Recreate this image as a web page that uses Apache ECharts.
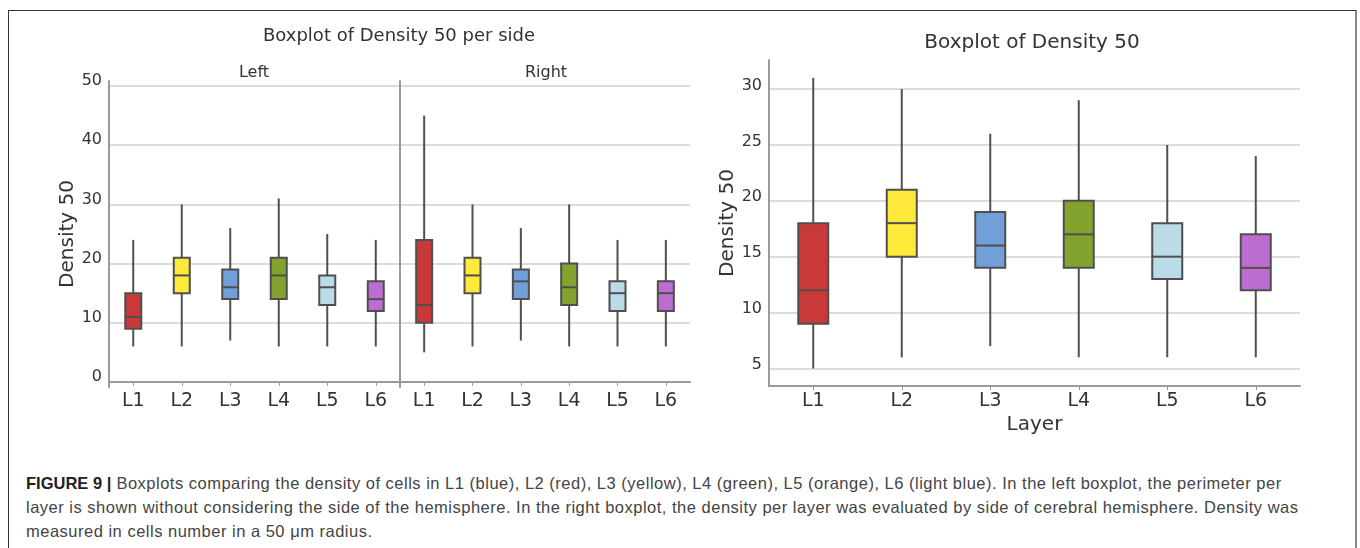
<!DOCTYPE html>
<html>
<head>
<meta charset="utf-8">
<script src="https://cdn.jsdelivr.net/npm/echarts@6/dist/echarts.min.js"></script>
<style>
  html, body { margin: 0; padding: 0; background: #fff; }
  #wrap { position: relative; width: 1360px; height: 548px; overflow: hidden; }
  #frame { position: absolute; left: 8px; top: 10px; width: 1346px; height: 600px;
           border-left: 1px solid #333; border-top: 1px solid #333; border-right: 2px solid #888; }
  #chart { position: absolute; left: 0; top: 0; width: 1360px; height: 440px; }
  #caption { position: absolute; left: 26px; top: 471px; font-family: "Liberation Sans", Arial, sans-serif;
             font-size: 16.5px; letter-spacing: 0.5px; line-height: 24px; color: #444; white-space: nowrap; }
  #caption b { color: #222; letter-spacing: 0; }
</style>
</head>
<body>
<div id="wrap">
  <div id="frame"></div>
  <div id="chart"></div>
  <div id="caption">
    <div><b>FIGURE 9 |</b> Boxplots comparing the density of cells in L1 (blue), L2 (red), L3 (yellow), L4 (green), L5 (orange), L6 (light blue). In the left boxplot, the perimeter per</div>
    <div>layer is shown without considering the side of the hemisphere. In the right boxplot, the density per layer was evaluated by side of cerebral hemisphere. Density was</div>
    <div>measured in cells number in a 50 μm radius.</div>
  </div>
</div>
<script>
// ---- data ----
const categories = ['L1', 'L2', 'L3', 'L4', 'L5', 'L6'];
const layerColors = ['#c9393a', '#ffea3c', '#71a0d9', '#84a22e', '#b9dce8', '#bd6ccf'];
// [min, Q1, median, Q3, max]
const sideLeft  = [[6, 9, 11, 15, 24], [6, 15, 18, 21, 30], [7, 14, 16, 19, 26], [6, 14, 18, 21, 31], [6, 13, 16, 18, 25], [6, 12, 14, 17, 24]];
const sideRight = [[5, 10, 13, 24, 45], [6, 15, 18, 21, 30], [7, 14, 17, 19, 26], [6, 13, 16, 20, 30], [6, 12, 15, 17, 24], [6, 12, 15, 17, 24]];
const overall   = [[5, 9, 12, 18, 31], [6, 15, 18, 21, 30], [7, 14, 16, 19, 26], [6, 14, 17, 20, 29], [6, 13, 15, 18, 25], [6, 12, 14, 17, 24]];
const sideTicks = [0, 10, 20, 30, 40, 50];
const layerTicks = [5, 10, 15, 20, 25, 30];
const sideRange = [-0.85, 50.85];
const layerRange = [3.42, 32.6];

// ---- chart ----
const FONT = 'DejaVu Sans';
const AXIS_COLOR = '#9a9a9a';
const GRID_COLOR = '#dcdcdc';
const TEXT_COLOR = '#333';

function toRows(arr) {
  return arr.map((v, i) => [i].concat(v));
}

function boxRenderer(boxWidth) {
  return function (params, api) {
    const x = api.value(0);
    const pMin = api.coord([x, api.value(1)]);
    const pQ1 = api.coord([x, api.value(2)]);
    const pMed = api.coord([x, api.value(3)]);
    const pQ3 = api.coord([x, api.value(4)]);
    const pMax = api.coord([x, api.value(5)]);
    const cx = pMed[0];
    const half = boxWidth / 2;
    const lineStyle = { stroke: '#4f4f4f', lineWidth: 2 };
    return {
      type: 'group',
      children: [
        { type: 'line', shape: { x1: cx, y1: pMax[1], x2: cx, y2: pQ3[1] }, style: lineStyle },
        { type: 'line', shape: { x1: cx, y1: pQ1[1], x2: cx, y2: pMin[1] }, style: lineStyle },
        { type: 'rect', shape: { x: cx - half, y: pQ3[1], width: boxWidth, height: pQ1[1] - pQ3[1] },
          style: { fill: layerColors[x], stroke: '#4f4f4f', lineWidth: 2 } },
        { type: 'line', shape: { x1: cx - half, y1: pMed[1], x2: cx + half, y2: pMed[1] }, style: lineStyle }
      ]
    };
  };
}

function xAxisCfg(gridIndex, extra) {
  return Object.assign({
    type: 'category', gridIndex: gridIndex, data: categories,
    axisLine: { show: true, lineStyle: { color: AXIS_COLOR, width: 2 } },
    axisTick: { show: true, alignWithLabel: true, length: 4, lineStyle: { color: AXIS_COLOR, width: 1 } },
    axisLabel: { color: TEXT_COLOR, fontFamily: FONT, fontSize: 19, margin: 5 },
    splitLine: { show: false }
  }, extra || {});
}

function labelCfg(ticks, show, lh) {
  return {
    show: show, color: TEXT_COLOR, fontFamily: FONT, fontSize: 16, margin: 7,
    showMinLabel: false, showMaxLabel: false,
    verticalAlign: 'bottom', lineHeight: lh,
    formatter: function (v) {
      return Math.abs(v - Math.round(v)) < 1e-6 && ticks.indexOf(Math.round(v)) >= 0 ? String(Math.round(v)) : '';
    }
  };
}

function yAxisCfg(gridIndex, range, ticks, showLabels, lh, extra) {
  const step = ticks[1] - ticks[0];
  return Object.assign({
    type: 'value', gridIndex: gridIndex, min: range[0], max: range[1],
    minInterval: step, maxInterval: step,
    axisLine: { show: true, lineStyle: { color: AXIS_COLOR, width: 2 } },
    axisTick: { show: false },
    axisLabel: labelCfg(ticks, showLabels, lh),
    splitLine: { show: true, showMinLine: false, showMaxLine: false, lineStyle: { color: GRID_COLOR, width: 2 } }
  }, extra || {});
}

const chart = echarts.init(document.getElementById('chart'), null, { renderer: 'canvas' });
chart.setOption({
  animation: false,
  backgroundColor: 'transparent',
  textStyle: { fontFamily: FONT },
  title: [
    { text: 'Boxplot of Density 50 per side', left: 399, top: 27, textAlign: 'center', padding: 0,
      textStyle: { fontFamily: FONT, fontSize: 18, fontWeight: 'normal', color: TEXT_COLOR } },
    { text: 'Left', left: 254, top: 65, textAlign: 'center', padding: 0,
      textStyle: { fontFamily: FONT, fontSize: 16, fontWeight: 'normal', color: TEXT_COLOR } },
    { text: 'Right', left: 546, top: 65, textAlign: 'center', padding: 0,
      textStyle: { fontFamily: FONT, fontSize: 16, fontWeight: 'normal', color: TEXT_COLOR } },
    { text: 'Boxplot of Density 50', left: 1032, top: 33, textAlign: 'center', padding: 0,
      textStyle: { fontFamily: FONT, fontSize: 20, fontWeight: 'normal', color: TEXT_COLOR } }
  ],
  grid: [
    { left: 109, top: 81, width: 291, height: 306 },
    { left: 400, top: 81, width: 290, height: 306 },
    { left: 769, top: 60, width: 531, height: 327 }
  ],
  xAxis: [
    xAxisCfg(0),
    xAxisCfg(1),
    xAxisCfg(2, { name: 'Layer', nameLocation: 'middle', nameGap: 24,
      nameTextStyle: { fontFamily: FONT, fontSize: 20, color: TEXT_COLOR } })
  ],
  yAxis: [
    yAxisCfg(0, sideRange, sideTicks, true, 10, { name: 'Density 50', nameLocation: 'middle', nameGap: 31,
      nameTextStyle: { fontFamily: FONT, fontSize: 20, color: TEXT_COLOR } }),
    yAxisCfg(1, sideRange, sideTicks, false, 10),
    yAxisCfg(2, layerRange, layerTicks, true, 7, { name: 'Density 50', nameLocation: 'middle', nameGap: 31,
      nameTextStyle: { fontFamily: FONT, fontSize: 20, color: TEXT_COLOR } })
  ],
  series: [
    { type: 'custom', xAxisIndex: 0, yAxisIndex: 0, renderItem: boxRenderer(16),
      encode: { x: 0, y: [1, 2, 3, 4, 5] }, data: toRows(sideLeft) },
    { type: 'custom', xAxisIndex: 1, yAxisIndex: 1, renderItem: boxRenderer(16),
      encode: { x: 0, y: [1, 2, 3, 4, 5] }, data: toRows(sideRight) },
    { type: 'custom', xAxisIndex: 2, yAxisIndex: 2, renderItem: boxRenderer(30),
      encode: { x: 0, y: [1, 2, 3, 4, 5] }, data: toRows(overall) }
  ]
});
</script>
</body>
</html>
